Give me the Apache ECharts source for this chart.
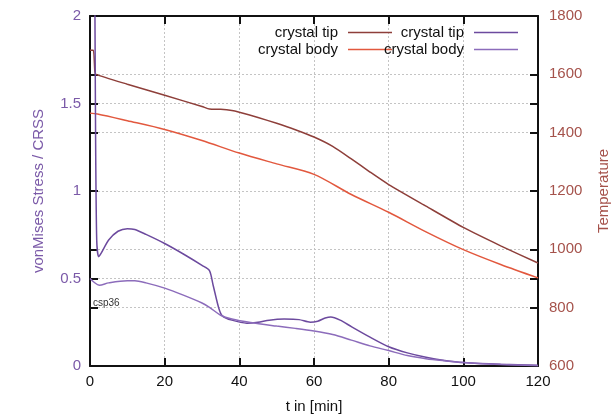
<!DOCTYPE html>
<html>
<head>
<meta charset="utf-8">
<script src="https://cdn.jsdelivr.net/npm/echarts@6/dist/echarts.min.js"></script>
<style>
  html, body { margin: 0; padding: 0; background: #fff; }
  #chart { width: 614px; height: 417px; }
</style>
</head>
<body>
<div id="chart"></div>
<script>
// Time axis [min]
const xTicks = [0, 20, 40, 60, 80, 100, 120];

// Temperature curves: [t, T]
const tempTip = [[0,1683],[0.9,1683],[1.3,1610],[1.6,1600],[10,1566],[20,1528],[30,1490],[32,1481],[35,1480],[38,1476],[40,1470],[45,1452],[50,1432],[55,1410],[60,1385],[65,1353],[70,1310],[75,1265],[80,1222],[90,1148],[100,1075],[110,1012],[120,953]];
const tempBody = [[0,1467],[2,1464],[10,1441],[20,1411],[30,1373],[40,1330],[50,1293],[60,1257],[70,1188],[80,1127],[90,1060],[100,999],[110,948],[120,902]];

// von Mises stress normalised by CRSS: [t, value]
const stressTip = [[1.2,2.6],[1.5,1.3],[1.8,0.72],[2.3,0.625],[3,0.645],[5,0.72],[7.5,0.77],[10,0.785],[12,0.78],[15,0.752],[20,0.70],[25,0.64],[30,0.575],[32,0.545],[33,0.46],[34.5,0.33],[35.5,0.285],[38,0.262],[42,0.245],[45,0.25],[48,0.262],[52,0.268],[56,0.265],[59,0.25],[61,0.256],[63,0.274],[64.5,0.28],[67,0.262],[70,0.225],[75,0.165],[80,0.11],[85,0.075],[90,0.05],[95,0.032],[100,0.02],[110,0.01],[120,0.005]];
const stressBody = [[0,0.5],[1,0.48],[2.5,0.462],[5,0.475],[10,0.487],[12,0.487],[15,0.475],[20,0.445],[25,0.405],[30,0.36],[32,0.335],[35,0.29],[38,0.268],[43,0.248],[50,0.228],[55,0.215],[60,0.2],[65,0.18],[70,0.148],[75,0.115],[80,0.088],[85,0.06],[90,0.042],[95,0.03],[100,0.02],[110,0.008],[120,0.002]];

const FONT = 'Liberation Sans, Arial, sans-serif';
const PURPLE_TXT = '#7b5aa8';
const RED_TXT = '#a5524b';
const C_TTIP = '#8e3f3a';
const C_TBODY = '#e2583e';
const C_STIP = '#6c4a9e';
const C_SBODY = '#8c6cbb';

const frame = { show: true, onZero: false, lineStyle: { color: '#111', width: 2 } };
const gridLine = { show: true, lineStyle: { color: '#c4c4c4', type: [2, 2], width: 1 } };
const tickIn = { show: true, inside: true, length: 8, lineStyle: { color: '#111', width: 2 } };

const legendBase = {
  orient: 'vertical', align: 'right', top: 25, padding: 0,
  icon: 'rect', itemWidth: 44, itemHeight: 1.6, itemGap: 2,
  textStyle: { fontFamily: FONT, fontSize: 15, color: '#111', padding: [0, 5, 0, 0] }
};

const chart = echarts.init(document.getElementById('chart'));
chart.setOption({
  animation: false,
  backgroundColor: '#fff',
  grid: { left: 90, right: 76, top: 16, bottom: 51, outerBoundsMode: 'none', containLabel: false },
  legend: [
    Object.assign({}, legendBase, {
      data: ['T tip', 'T body'], right: 222,
      formatter: n => n === 'T tip' ? 'crystal tip' : 'crystal body'
    }),
    Object.assign({}, legendBase, {
      data: ['S tip', 'S body'], right: 96,
      formatter: n => n === 'S tip' ? 'crystal tip' : 'crystal body'
    })
  ],
  xAxis: [
    {
      type: 'value', min: 0, max: 120, interval: 20,
      name: 't in [min]', nameLocation: 'middle', nameGap: 33,
      nameTextStyle: { fontFamily: FONT, fontSize: 15, color: '#111' },
      axisLine: frame, axisTick: tickIn, splitLine: gridLine,
      axisLabel: { fontFamily: FONT, fontSize: 15, color: '#111', margin: 8 }
    },
    {
      type: 'value', min: 0, max: 120, interval: 20, position: 'top',
      axisLine: frame, axisTick: tickIn, splitLine: { show: false },
      axisLabel: { show: false }
    }
  ],
  yAxis: [
    {
      type: 'value', min: 0, max: 2, interval: 0.5, position: 'left',
      name: 'vonMises Stress / CRSS', nameLocation: 'middle', nameGap: 44, nameRotate: 90,
      nameTextStyle: { fontFamily: FONT, fontSize: 15, color: PURPLE_TXT },
      axisLine: frame, axisTick: tickIn, splitLine: gridLine,
      axisLabel: { fontFamily: FONT, fontSize: 15, color: PURPLE_TXT, margin: 9 }
    },
    {
      type: 'value', min: 600, max: 1800, interval: 200, position: 'right',
      name: 'Temperature', nameLocation: 'middle', nameGap: 58, nameRotate: 90,
      nameTextStyle: { fontFamily: FONT, fontSize: 15, color: RED_TXT },
      axisLine: frame, axisTick: tickIn, splitLine: gridLine,
      axisLabel: { fontFamily: FONT, fontSize: 15, color: RED_TXT, margin: 11,
                   formatter: v => String(v) }
    },
    {
      // mirrored temperature ticks on the left border
      type: 'value', min: 600, max: 1800, interval: 200, position: 'left',
      axisLine: { show: false, onZero: false }, axisTick: tickIn, splitLine: { show: false },
      axisLabel: { show: false }
    },
    {
      // mirrored stress ticks on the right border
      type: 'value', min: 0, max: 2, interval: 0.5, position: 'right',
      axisLine: { show: false, onZero: false }, axisTick: tickIn, splitLine: { show: false },
      axisLabel: { show: false }
    }
  ],
  series: [
    { name: 'T tip', type: 'line', yAxisIndex: 1, data: tempTip, symbol: 'none', smooth: 0.2,
      lineStyle: { color: C_TTIP, width: 1.5 }, itemStyle: { color: C_TTIP } },
    { name: 'T body', type: 'line', yAxisIndex: 1, data: tempBody, symbol: 'none', smooth: 0.3,
      lineStyle: { color: C_TBODY, width: 1.5 }, itemStyle: { color: C_TBODY } },
    { name: 'S tip', type: 'line', yAxisIndex: 0, data: stressTip, symbol: 'none', smooth: 0.25,
      lineStyle: { color: C_STIP, width: 1.5 }, itemStyle: { color: C_STIP } },
    { name: 'S body', type: 'line', yAxisIndex: 0, data: stressBody, symbol: 'none', smooth: 0.3,
      lineStyle: { color: C_SBODY, width: 1.5 }, itemStyle: { color: C_SBODY } }
  ],
  graphic: [
    { type: 'text', left: 93, top: 298,
      style: { text: 'csp36', fontFamily: FONT, fontSize: 10, fill: '#333' } }
  ]
});
</script>
</body>
</html>
